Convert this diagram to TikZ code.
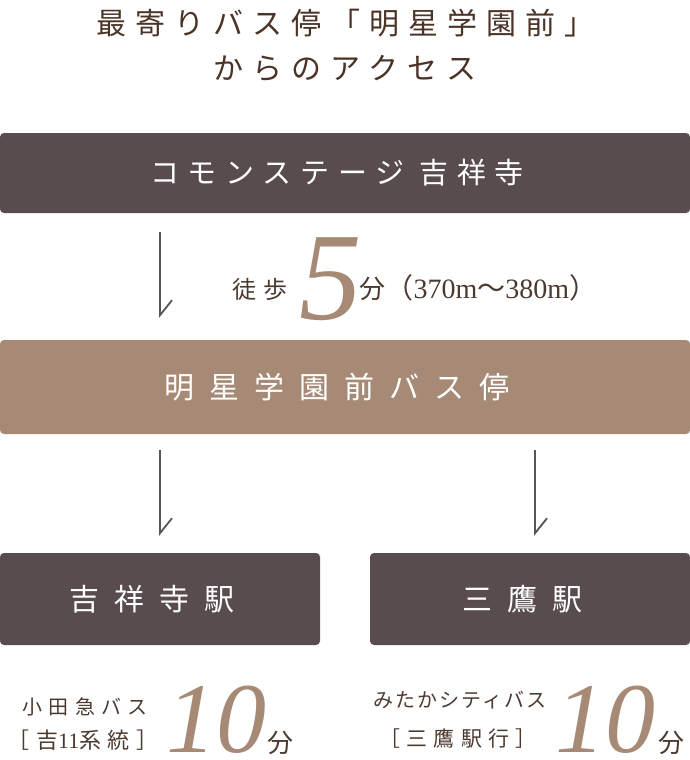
\documentclass[tikz,border=0pt]{standalone}
\usepackage{fontspec}
\setmainfont{Liberation Serif}
\newfontfamily\jptitle{Noto Sans CJK JP}[LetterSpace=30]
\newfontfamily\jpbox{Noto Sans CJK JP}[LetterSpace=30]
\newfontfamily\jpwide{Noto Sans CJK JP}[LetterSpace=50]
\newfontfamily\jpsmall{Noto Sans CJK JP}[LetterSpace=30]
\newfontfamily\jpnarrow{Noto Sans CJK JP}[LetterSpace=10]
\newfontfamily\jp{Noto Sans CJK JP}
\usepackage{xcolor}
\usetikzlibrary{positioning,arrows.meta}

\definecolor{darkbg}{HTML}{594C4E}
\definecolor{tanbg}{HTML}{A68A76}
\definecolor{titlebrown}{HTML}{4B3427}
\definecolor{textbrown}{HTML}{4B3A30}
\definecolor{linegray}{HTML}{58555A}

\begin{document}
\begin{tikzpicture}[
  x=1pt, y=-1pt,
  title/.style={inner sep=0, text=titlebrown, font=\jptitle\fontsize{30}{34}\selectfont},
  darkbox/.style={rectangle, fill=darkbg, rounded corners=4pt, inner sep=0,
                  text=white, execute at end node={\kern16pt}},
  tanbox/.style={darkbox, fill=tanbg},
  label/.style={inner sep=0, text=textbrown},
  bignum/.style={inner sep=0, text=tanbg, font=\fontsize{100}{100}\selectfont\itshape},
  arrow/.style={-{Straight Barb[left, length=15pt, width=24pt]}, line width=1.8pt,
                draw=linegray}
]
\useasboundingbox (0,0) rectangle (690,760);

% title
\node[title] (t1) at (345,23) {最寄りバス停「明星学園前」};
\node[title] (t2) at (345,68) {からのアクセス};

% boxes
\node[darkbox, minimum width=690pt, minimum height=80pt,
      font=\jpbox\fontsize{29}{32}\selectfont] (komon) at (345,173) {コモンステージ 吉祥寺};
\node[tanbox, minimum width=690pt, minimum height=94pt,
      font=\jpwide\fontsize{30}{34}\selectfont] (stop) at (345,387) {明星学園前バス停};
\node[darkbox, minimum width=320pt, minimum height=92pt,
      font=\jpwide\fontsize{30}{34}\selectfont] (kichi) at (160,599) {吉祥寺駅};
\node[darkbox, minimum width=320pt, minimum height=92pt,
      font=\jpwide\fontsize{30}{34}\selectfont] (mitaka) at (530,599) {三鷹駅};

% arrows
\coordinate (a1) at (160,0);
\coordinate (a2) at (535,0);
\draw[arrow, shorten <=19pt, shorten >=22pt] (komon.south -| a1) -- (stop.north -| a1);
\draw[arrow, shorten <=16pt, shorten >=17pt] (stop.south -| a1) -- (kichi.north -| a1);
\draw[arrow, shorten <=16pt, shorten >=17pt] (stop.south -| a2) -- (mitaka.north -| a2);

% walk
\node[label, anchor=base west, font=\jpsmall\fontsize{24}{24}\selectfont] (walk) at (232,298) {徒歩};
\node[bignum, anchor=base west, font=\fontsize{125}{125}\selectfont\itshape] (five) at (299,319) {5};
\node[label, anchor=base west, font=\jp\fontsize{26}{26}\selectfont] (fun) at (359,298) {分};
\node[label, base right=0pt of fun, font=\fontsize{28}{28}\selectfont]
  (dist) {{\jp （}370m{\jp 〜}380m{\jp ）}};

% bottom left
\node[label, anchor=base, font=\jpsmall\fontsize{20}{20}\selectfont] (odakyu) at (85,714) {小田急バス};
\node[label, anchor=base, font=\fontsize{22}{22}\selectfont] (route) at (83,748)
  {{\jpsmall ［吉}11{\jpsmall 系統］}};
\node[bignum, anchor=base west] (ten1) at (166,752) {10};
\node[label, base right=1pt of ten1, font=\jp\fontsize{26}{26}\selectfont] (fun1) {分};

% bottom right
\node[label, anchor=base, font=\jpnarrow\fontsize{20}{20}\selectfont] (city) at (460,707) {みたかシティバス};
\node[label, anchor=base, font=\jpsmall\fontsize{21}{21}\selectfont] (dest) at (458,746) {［三鷹駅行］};
\node[bignum, anchor=base west] (ten2) at (555,752) {10};
\node[label, base right=3pt of ten2, font=\jp\fontsize{26}{26}\selectfont] (fun2) {分};
\end{tikzpicture}
\end{document}
